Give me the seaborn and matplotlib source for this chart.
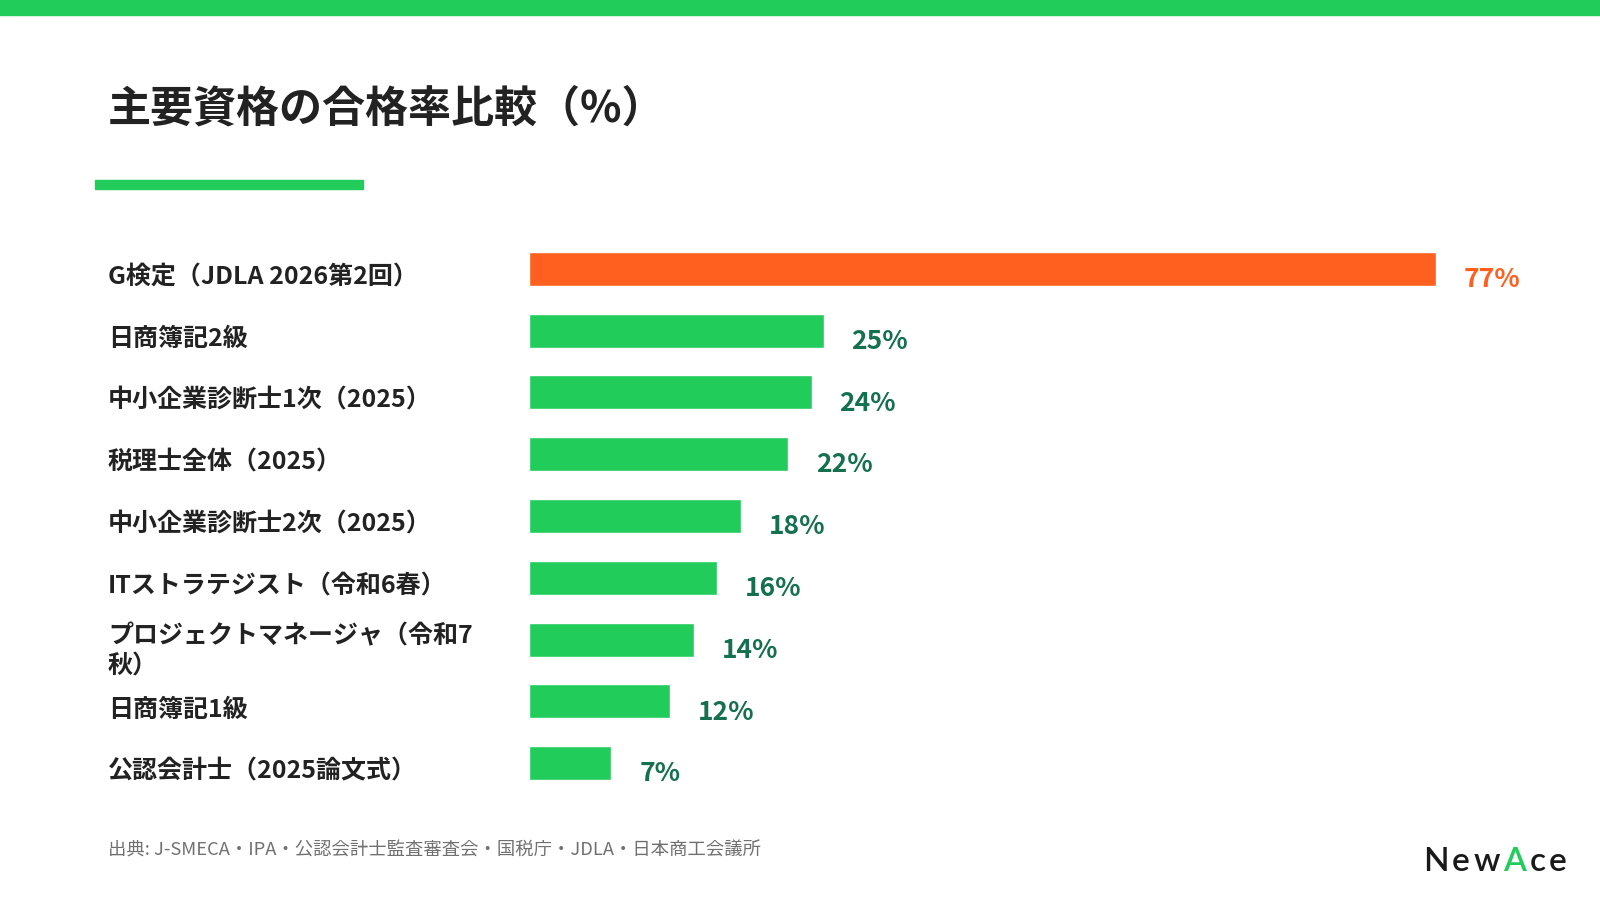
import matplotlib
matplotlib.use("Agg")
import matplotlib.pyplot as plt
import matplotlib.transforms as mtransforms
import seaborn as sns
import pandas as pd
from matplotlib.patches import Rectangle

# data
labels = [
    "G検定（JDLA 2026第2回）",
    "日商簿記2級",
    "中小企業診断士1次（2025）",
    "税理士全体（2025）",
    "中小企業診断士2次（2025）",
    "ITストラテジスト（令和6春）",
    "プロジェクトマネージャ（令和7\n秋）",
    "日商簿記1級",
    "公認会計士（2025論文式）",
]
rates = [77, 25, 24, 22, 18, 16, 14, 12, 7]
highlight = ["G検定", "other", "other", "other", "other", "other", "other", "other", "other"]

title = "主要資格の合格率比較（%）"
source = "出典: J-SMECA・IPA・公認会計士監査審査会・国税庁・JDLA・日本商工会議所"

GREEN = "#21cc5b"
ORANGE = "#ff5f1f"
DARKGREEN = "#14704e"
TEXT = "#222222"

sns.set_theme(style="white")
plt.rcParams['font.family'] = ['Noto Sans CJK JP', 'DejaVu Sans']

W, H = 1600, 903
fig = plt.figure(figsize=(W / 100, H / 100), dpi=100)
fig.patch.set_facecolor("white")

# top band and title underline
fig.patches.append(Rectangle((0, 1 - 16 / H), 1, 16 / H, transform=fig.transFigure,
                             color=GREEN, zorder=0))
fig.patches.append(Rectangle((95 / W, 1 - 190 / H), 268 / W, 9 / H, transform=fig.transFigure,
                             color=GREEN, zorder=0))

fig.text(108 / W, 1 - 109 / H, title, fontsize=31, fontweight="bold", color=TEXT,
         ha="left", va="center")

# chart area
left, right = 529, 1529
top, bottom = 239, 795
ax = fig.add_axes([left / W, 1 - bottom / H, (right - left) / W, (bottom - top) / H])

df = pd.DataFrame({"label": labels, "rate": rates, "group": highlight})
sns.barplot(data=df, x="rate", y="label", hue="group",
            palette={"G検定": ORANGE, "other": GREEN},
            width=0.55, dodge=False, legend=False, ax=ax, saturation=1)

ax.set_xlim(0, (right - left) / 11.78)
ax.set_ylim(len(labels) - 0.5, -0.5)
ax.set_xlabel("")
ax.set_ylabel("")
ax.set_xticks([])
sns.despine(ax=ax, left=True, bottom=True)
ax.tick_params(axis="y", length=0, pad=(left - 108) * 0.72)
shift = mtransforms.ScaledTranslation(0, -5 / 100, fig.dpi_scale_trans)
for t in ax.get_yticklabels():
    t.set_ha("left")
    t.set_fontsize(18)
    t.set_fontweight("bold")
    t.set_color(TEXT)
    t.set_linespacing(1.35)
    t.set_transform(t.get_transform() + shift)

for i, v in enumerate(rates):
    ax.annotate(f"{v}%", xy=(v, i), xytext=(20, -7), textcoords="offset points",
                ha="left", va="center", fontsize=19, fontweight="bold",
                color=ORANGE if i == 0 else DARKGREEN)

# source
fig.text(108 / W, 1 - 851 / H, source, fontsize=13.2, color="#707070",
         ha="left", va="center")

# logo
fig.canvas.draw()
renderer = fig.canvas.get_renderer()
x = 1423
for ch, col in zip("NewAce", ["#1a1a1a", "#1a1a1a", "#1a1a1a", GREEN, "#1a1a1a", "#1a1a1a"]):
    t = fig.text(x / W, 1 - 862 / H, ch, fontsize=24, fontweight="semibold",
                 family=["Lato", "DejaVu Sans"], color=col, ha="left", va="center")
    x += t.get_window_extent(renderer).width + 3.5

fig.savefig("out.png", dpi=100, facecolor="white")
